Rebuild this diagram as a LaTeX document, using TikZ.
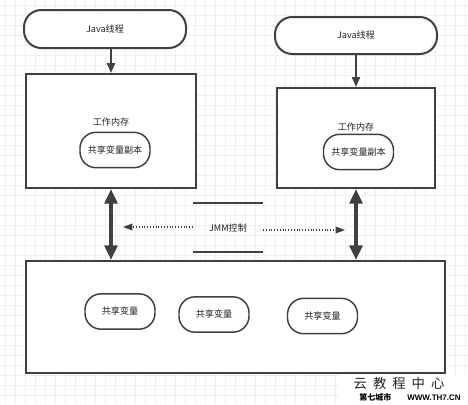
\documentclass[tikz,border=0pt]{standalone}
\usepackage{fontspec}
\setmainfont{Liberation Sans}
\newfontfamily\cjk{Noto Sans CJK SC}
\usetikzlibrary{arrows.meta}
\definecolor{strokec}{HTML}{404040}
\definecolor{gridc}{HTML}{EFEFEF}
\definecolor{textc}{HTML}{222222}
\tikzset{
  base/.style={draw=strokec, line width=1.5pt, fill=white, text=textc, font=\cjk\fontsize{6.8}{8}\selectfont, inner sep=0pt},
  pill/.style={base, rounded corners=13pt},
  smallpill/.style={base, line width=1.1pt, rounded corners=12pt, minimum width=52.5pt, minimum height=26.5pt},
  boxc/.style={base},
  gridline/.style={draw=gridc, line width=0.5pt},
  thinarrow/.style={draw=strokec, line width=1.5pt, -{Triangle[width=6pt,length=7.5pt]}},
  thickarrow/.style={draw=strokec, line width=3.2pt, {Triangle[width=9.5pt,length=11pt]}-{Triangle[width=9.5pt,length=11pt]}},
  dotarrow/.style={draw=strokec, line width=0.9pt, dash pattern=on 0.8pt off 1.3pt, -{Triangle[width=5pt,length=7pt]}},
  barline/.style={draw=strokec, line width=1.6pt},
  lbl/.style={text=textc, font=\cjk\fontsize{6.8}{8}\selectfont, inner sep=0pt}
}
\begin{document}
\begin{tikzpicture}[x=0.75pt,y=-0.75pt]
\useasboundingbox (0,0) rectangle (468,404);
\fill[white] (0,0) rectangle (468,404);
\foreach \i in {5,15,...,465} \draw[gridline] (\i,0) -- (\i,404);
\foreach \j in {5,15,...,400} \draw[gridline] (0,\j) -- (468,\j);

% threads
\node[pill, minimum width=121.5pt, minimum height=28.5pt] (t1) at (105,29) {Java线程};
\node[pill, minimum width=121.5pt, minimum height=27.75pt] (t2) at (356,35.5) {Java线程};

% working memories
\node[boxc, minimum width=127.5pt, minimum height=85.5pt] (wm1) at (111,131) {};
\node[boxc, minimum width=118.5pt, minimum height=75pt] (wm2) at (356,138) {};
\node[lbl] (wl1) at (111,122) {工作内存};
\node[lbl] (wl2) at (356,127.5) {工作内存};
\node[smallpill] (c1) at (115,150) {共享变量副本};
\node[smallpill] (c2) at (358.5,152) {共享变量副本};

% main memory
\node[boxc, minimum width=314.25pt, minimum height=84pt] (mm) at (235.5,317) {};
\node[smallpill] (s1) at (120,311.5) {共享变量};
\node[smallpill] (s2) at (214,314.5) {共享变量};
\node[smallpill] (s3) at (322.5,316) {共享变量};

% thread -> working memory arrows
\draw[thinarrow] (wm1.north |- t1.south) -- (wm1.north);
\draw[thinarrow] (t2.south) -- (wm2.north);

% thick double arrows
\draw[thickarrow] (wm1.south) -- (wm1.south |- mm.north);
\draw[thickarrow] (wm2.south) -- (wm2.south |- mm.north);

% JMM control
\coordinate (jl) at (193,203);
\coordinate (jr) at (263,203);
\coordinate (kl) at (193,252);
\coordinate (kr) at (263,252);
\draw[barline] (jl) -- (jr);
\draw[barline] (kl) -- (kr);
\node[lbl] (jmm) at (228,228) {JMM控制};
\coordinate (dl0) at (193,227);
\coordinate (dl1) at (123,227);
\coordinate (dr0) at (263,230);
\coordinate (dr1) at (345,230);
\draw[dotarrow] (dl0) -- (dl1);
\draw[dotarrow] (dr0) -- (dr1);

% watermark
\fill[white] (339,374.5) rectangle (468,404);
\node[text=textc, font=\cjk\fontsize{10}{12}\selectfont, inner sep=0pt] (wmk) at (399,383) {云\hspace{4.5pt}教\hspace{4.5pt}程\hspace{4.5pt}中\hspace{4.5pt}心};
\node[text=black, font=\cjk\bfseries\fontsize{6}{7}\selectfont, inner sep=0pt] (wmk2) at (410,397.5) {第七城市\hspace{12pt}{\fontspec{Liberation Sans}\bfseries WWW.TH7.CN}};
\end{tikzpicture}
\end{document}
